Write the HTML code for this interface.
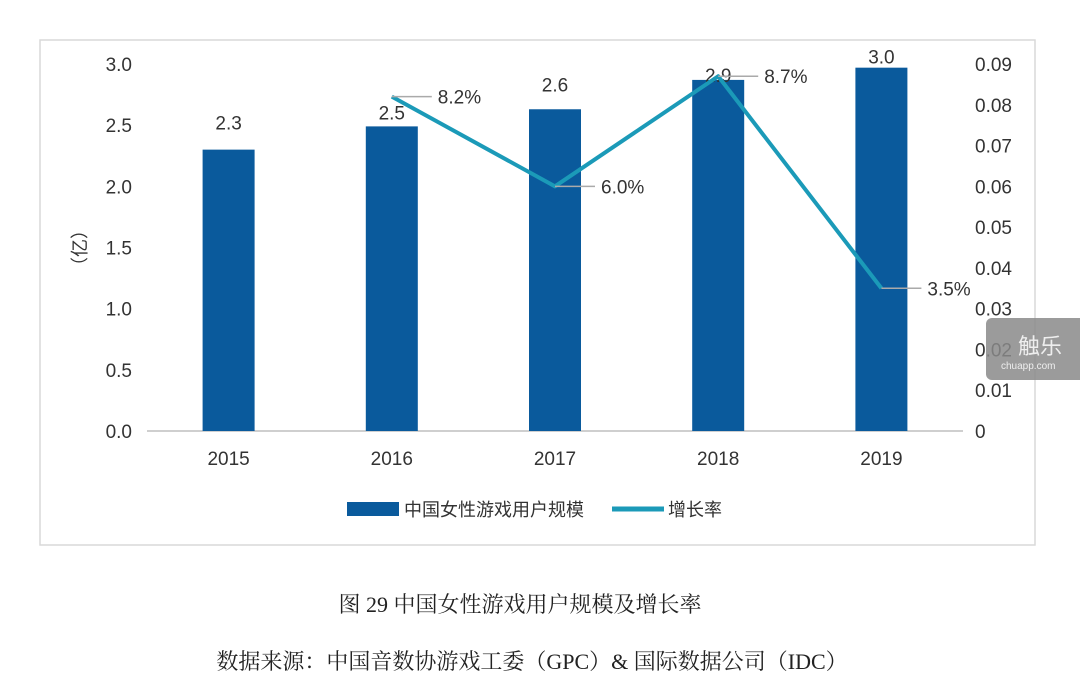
<!DOCTYPE html>
<html><head><meta charset="utf-8"><style>
html,body{margin:0;padding:0;background:#fff;width:1080px;height:698px;overflow:hidden}
svg text{font-family:"Liberation Sans","Noto Sans CJK SC",sans-serif}
</style></head><body>
<svg id="c" width="1080" height="698" xmlns="http://www.w3.org/2000/svg">
<rect x="40" y="40" width="995" height="505" fill="#fff" stroke="#d9d9d9" stroke-width="1.5"/>
<g id="plot"></g>
<g>
<rect x="347" y="502" width="52" height="14" fill="#0a5a9c"/>
<text x="404" y="516" font-size="18" fill="#333">中国女性游戏用户规模</text>
<line x1="612" y1="509" x2="664" y2="509" stroke="#1b9ab8" stroke-width="5"/>
<text x="668" y="516" font-size="18" fill="#333">增长率</text>
</g>
<g>
<rect x="986" y="318" width="100" height="62" rx="6" fill="#8a8a8a" opacity="0.85"/>
<text x="1018" y="354" font-size="22" fill="#eee">触乐</text>
<text x="1001" y="369" font-size="10" fill="#eee">chuapp.com</text>
</g>
<text x="520" y="612" text-anchor="middle" font-size="22" fill="#222" style="font-family:'Liberation Serif','Noto Serif CJK SC',serif">图 29  中国女性游戏用户规模及增长率</text>
<text x="532" y="669" text-anchor="middle" font-size="22" fill="#222" style="font-family:'Liberation Serif','Noto Serif CJK SC',serif">数据来源：中国音数协游戏工委（GPC）&amp; 国际数据公司（IDC）</text>
</svg>
<script>
const categories=["2015","2016","2017","2018","2019"];
const users=[2.3,2.49,2.63,2.87,2.97];
const userLabels=["2.3","2.5","2.6","2.9","3.0"];
const growth=[null,0.082,0.060,0.087,0.035];
const growthLabels=["","8.2%","6.0%","8.7%","3.5%"];
const leftTicks=["0.0","0.5","1.0","1.5","2.0","2.5","3.0"];
const rightTicks=["0","0.01","0.02","0.03","0.04","0.05","0.06","0.07","0.08","0.09"];
const labelGap=[20,7,18,-2,4];
const NS="http://www.w3.org/2000/svg";
const g=document.getElementById('plot');
const X0=147,X1=963,Y0=431,Y1=64;
const band=(X1-X0)/categories.length;
const xc=i=>X0+band*(i+0.5);
const yL=v=>Y0-(v/3)*(Y0-Y1);
const yR=v=>Y0-(v/0.09)*(Y0-Y1);
function el(t,a,txt){const e=document.createElementNS(NS,t);for(const k in a)e.setAttribute(k,a[k]);if(txt!==undefined)e.textContent=txt;g.appendChild(e);return e;}
leftTicks.forEach(t=>{const e=el('text',{x:132,y:yL(+t)+7,'text-anchor':'end','font-size':19,fill:'#333'},t);

});
rightTicks.forEach(t=>{const e=el('text',{x:975,y:yR(+t)+7,'font-size':19,fill:'#333'},t);

});
const yt=el('text',{x:86,y:248,'font-size':18,fill:'#333','text-anchor':'middle',transform:'rotate(-90 86 248)'},'（亿）');


const ax=el('line',{x1:X0,y1:Y0,x2:X1,y2:Y0,stroke:'#bfbfbf','stroke-width':1.5});


categories.forEach((c,i)=>{
 const t=el('text',{x:xc(i),y:465,'text-anchor':'middle','font-size':19,fill:'#333'},c);
 
 
 const b=el('rect',{x:xc(i)-26,y:yL(users[i]),width:52,height:Y0-yL(users[i]),fill:'#0a5a9c'});
 
 
 const l=el('text',{x:xc(i),y:yL(users[i])-labelGap[i],'text-anchor':'middle','font-size':19,fill:'#333'},userLabels[i]);
 
 
});
let pts=[];growth.forEach((v,i)=>{if(v!==null)pts.push([xc(i),yR(v)]);});
const pl=el('polyline',{points:pts.map(p=>p.join(',')).join(' '),fill:'none',stroke:'#1b9ab8','stroke-width':4,'stroke-linejoin':'round'});


growth.forEach((v,i)=>{if(v===null)return;
 const x=xc(i),y=yR(v);
 const ll=el('line',{x1:x,y1:y,x2:x+40,y2:y,stroke:'#aaa','stroke-width':1.5});
 
 
 const t=el('text',{x:x+46,y:y+7,'font-size':19,fill:'#333'},growthLabels[i]);
 
 
});
</script>
</body></html>
